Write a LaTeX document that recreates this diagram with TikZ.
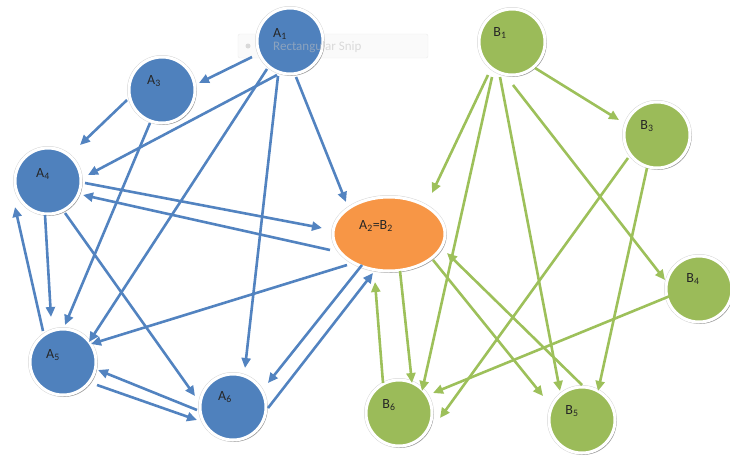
\documentclass[tikz,border=0pt]{standalone}
\usepackage{fontspec}
\setmainfont{Carlito}
\usetikzlibrary{arrows.meta,shadows,calc,shapes.geometric}
\definecolor{nblue}{HTML}{4F81BD}
\definecolor{lblue}{HTML}{5283C0}
\definecolor{ngreen}{HTML}{9BBB59}
\definecolor{lgreen}{HTML}{9DC05A}
\definecolor{norange}{HTML}{F79646}
\begin{document}
\begin{tikzpicture}[x=1pt,y=-1pt,
  nd/.style={circle,minimum size=66pt,inner sep=0pt,draw=white,line width=3pt,
    preaction={draw=black!16,line width=4pt},
    drop shadow={shadow xshift=1.5pt,shadow yshift=-1.8pt,opacity=0.3,fill=black}},
  an/.style={nd,fill=nblue},
  gn/.style={nd,fill=ngreen},
  lbl/.style={font=\fontsize{14}{16}\selectfont,text=black!85,inner sep=0pt},
  ba/.style={draw=lblue,line width=2.6pt,-{Triangle[length=10pt,width=9pt]}},
  ga/.style={draw=lgreen,line width=2.6pt,-{Triangle[length=10pt,width=9pt]}}
]
\useasboundingbox (0,0) rectangle (730,456);
% faint screenshot overlay (box)
\node[draw=black!8,fill=black!2,rounded corners=2pt,
  minimum width=190pt,minimum height=24pt,inner sep=0pt] (snip) at (333,46) {};
\node[circle,fill=black!15,minimum size=5pt,inner sep=0pt] (snipdot) at (248,46) {};
% nodes
\node[an,label={[lbl,xshift=-10pt,yshift=7pt]center:A\textsubscript{1}}] (a1) at (290,41) {};
\node[an,label={[lbl,xshift=-8pt,yshift=9pt]center:A\textsubscript{3}}] (a3) at (162,90) {};
\node[an,label={[lbl,xshift=-5pt,yshift=7pt]center:A\textsubscript{4}}] (a4) at (48,181) {};
\node[an,label={[lbl,xshift=-10pt,yshift=7pt]center:A\textsubscript{5}}] (a5) at (63,362) {};
\node[an,label={[lbl,xshift=-8pt,yshift=10pt]center:A\textsubscript{6}}] (a6) at (233,407) {};
\node[nd,ellipse,minimum width=112pt,minimum height=74pt,fill=norange,
  label={[lbl,xshift=-13pt,yshift=8pt]center:A\textsubscript{2}=B\textsubscript{2}}] (a2) at (389,234) {};
\node[gn,label={[lbl,xshift=-12pt,yshift=9pt]center:B\textsubscript{1}}] (b1) at (512,42) {};
\node[gn,label={[lbl,xshift=-10pt,yshift=9pt]center:B\textsubscript{3}}] (b3) at (657,135) {};
\node[gn,label={[lbl,xshift=-6pt,yshift=10pt]center:B\textsubscript{4}}] (b4) at (699,289) {};
\node[gn,label={[lbl,xshift=-10pt,yshift=9pt]center:B\textsubscript{5}}] (b5) at (582,420) {};
\node[gn,label={[lbl,xshift=-10pt,yshift=8pt]center:B\textsubscript{6}}] (b6) at (399,413) {};
% blue connectors
\draw[ba] ($(a1)+(-38,16)$) -- ($(a3)+(37,-7)$);
\draw[ba] ($(a3)+(-35,10)$) -- ($(a4)+(32,-36)$);
\draw[ba] ($(a1)+(-13,34)$) -- ($(a4)+(40,-6)$);
\draw[ba] ($(a1)+(6,36)$) -- ($(a2)+(-43,-32)$);
\draw[ba] ($(a1)+(-23,28)$) -- ($(a5)+(26,-20)$);
\draw[ba] ($(a1)+(-12,35)$) -- ($(a6)+(12,-39)$);
\draw[ba] ($(a3)+(-12,33)$) -- ($(a5)+(2,-37)$);
\draw[ba] ($(a4)+(37,2)$) -- ($(a2)+(-67,-6)$);
\draw[ba] ($(a2)+(-59,16)$) -- ($(a4)+(35,14)$);
\draw[ba] ($(a4)+(-3,34)$) -- ($(a5)+(-12,-45)$);
\draw[ba] ($(a5)+(-20,-31)$) -- ($(a4)+(-33,26)$);
\draw[ba] ($(a4)+(17,32)$) -- ($(a6)+(-38,-11)$);
\draw[ba] ($(a2)+(-42,31)$) -- ($(a5)+(28,-18)$);
\draw[ba] ($(a5)+(34,23)$) -- ($(a6)+(-36,13)$);
\draw[ba] ($(a6)+(-36,3)$) -- ($(a5)+(35,8)$);
\draw[ba] ($(a2)+(-27,31)$) -- ($(a6)+(35,-24)$);
\draw[ba] ($(a6)+(35,1)$) -- ($(a2)+(-16,39)$);
% green connectors
\draw[ga] ($(b1)+(23,26)$) -- ($(b3)+(-38,-15)$);
\draw[ga] ($(b1)+(-24,33)$) -- ($(a2)+(43,-41)$);
\draw[ga] ($(b1)+(-20,35)$) -- ($(b6)+(23,-22)$);
\draw[ga] ($(b1)+(-12,35)$) -- ($(b5)+(-22,-29)$);
\draw[ga] ($(b1)+(1,43)$) -- ($(b4)+(-34,-9)$);
\draw[ga] ($(b3)+(-29,23)$) -- ($(b6)+(41,5)$);
\draw[ga] ($(b3)+(-10,33)$) -- ($(b5)+(16,-29)$);
\draw[ga] ($(b4)+(-29,7)$) -- ($(b6)+(34,-20)$);
\draw[ga] ($(a2)+(11,37)$) -- ($(b6)+(13,-30)$);
\draw[ga] ($(b6)+(-16,-30)$) -- ($(a2)+(-14,48)$);
\draw[ga] ($(a2)+(44,26)$) -- ($(b5)+(-39,-24)$);
\draw[ga] ($(b5)+(0,-35)$) -- ($(a2)+(58,19)$);
% faint screenshot overlay (text)
\node[anchor=west,inner sep=0pt,text=black!25,text opacity=0.55,
  font=\fontsize{13}{15}\selectfont] (sniptxt) at (273,47) {Rectangular Snip};
\end{tikzpicture}
\end{document}
